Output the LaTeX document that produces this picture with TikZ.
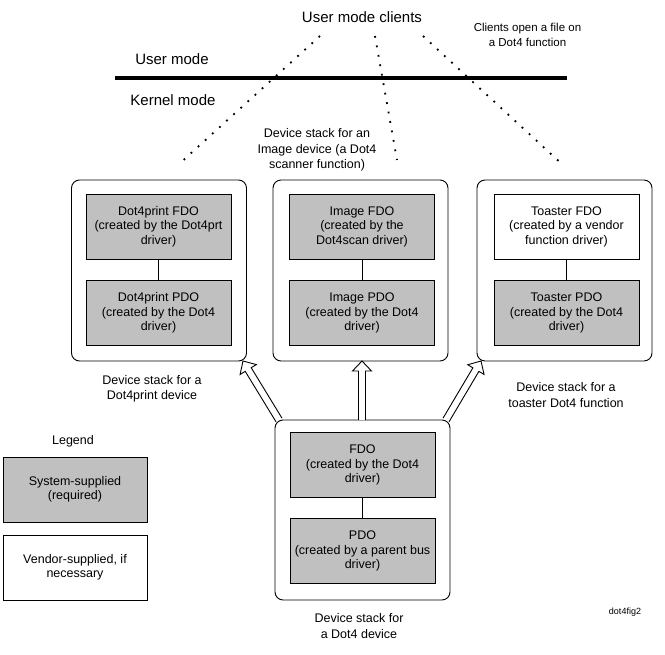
\documentclass[tikz,border=0pt]{standalone}
\usepackage{fontspec}
\setmainfont{Liberation Sans}
\usetikzlibrary{calc}
\definecolor{sysgray}{RGB}{192,192,192}

\tikzset{
  stack/.style={draw, line width=0.9pt, rounded corners=8pt, minimum width=175pt, minimum height=181pt},
  obj/.style={draw, line width=0.9pt, fill=sysgray, minimum width=145pt, minimum height=65pt, align=center, font=\fontsize{12.5}{14.5}\selectfont},
  vendor/.style={obj, fill=white},
  lbl/.style={align=center, font=\fontsize{12.5}{15.5}\selectfont},
  big/.style={font=\fontsize{15}{18}\selectfont},
  dots/.style={line width=1.8pt, dash pattern=on 1.8pt off 7.8pt}
}

% hollow arrow from #1 to #2
\newcommand{\fatarrow}[2]{%
  \coordinate (hb) at ($(#2)!10pt!(#1)$);
  \draw[fill=white, line width=0.9pt] ($(#1)!3.5pt!90:(#2)$) -- ($(hb)!3.5pt!-90:(#1)$)
    -- ($(hb)!9.5pt!-90:(#1)$) -- (#2) -- ($(hb)!9.5pt!90:(#1)$)
    -- ($(hb)!3.5pt!90:(#1)$) -- ($(#1)!3.5pt!-90:(#2)$);
}

\begin{document}
\begin{tikzpicture}[x=1pt,y=-1pt]
\useasboundingbox (0,0) rectangle (665,655);

% top part
\node[big] (clients) at (362,17) {User mode clients};
\node[lbl, font=\fontsize{11.5}{15}\selectfont] (opennote) at (527.5,35) {Clients open a file on\\a Dot4 function};
\node[big] (umode) at (172,59) {User mode};
\node[big] (kmode) at (173,100) {Kernel mode};
\coordinate (lineL) at (115,78);
\coordinate (lineR) at (567,78);
\draw[line width=3.3pt] (lineL) -- (lineR);

\coordinate (cl) at (320,36);
\coordinate (cm) at (375,36);
\coordinate (cr) at (423,36);
\coordinate (el) at (178,165);
\coordinate (em) at (397,160);
\coordinate (er) at (564,166);
\draw[dots] (cl) -- (el);
\draw[dots] (cm) -- (em);
\draw[dots] (cr) -- (er);

\node[lbl] (imglbl) at (317,150) {Device stack for an\\Image device (a Dot4\\scanner function)};

% device stacks
\node[stack] (prtstack) at (159,270.5) {};
\node[obj] (prtfdo) at (158.5,226.5) {Dot4print FDO\\(created by the Dot4prt\\driver)};
\node[obj] (prtpdo) at (158.5,313) {Dot4print PDO\\(created by the Dot4\\driver)};
\draw[line width=0.9pt] (prtfdo) -- (prtpdo);

\node[stack] (imgstack) at (360.5,270.5) {};
\node[obj] (imgfdo) at (362,226.5) {Image FDO\\(created by the\\Dot4scan driver)};
\node[obj] (imgpdo) at (362,313) {Image PDO\\(created by the Dot4\\driver)};
\draw[line width=0.9pt] (imgfdo) -- (imgpdo);

\node[stack] (tststack) at (564.5,270.5) {};
\node[vendor] (tstfdo) at (566.5,226.5) {Toaster FDO\\(created by a vendor\\function driver)};
\node[obj] (tstpdo) at (566.5,313) {Toaster PDO\\(created by the Dot4\\driver)};
\draw[line width=0.9pt] (tstfdo) -- (tstpdo);

\node[stack, minimum height=180pt] (dotstack) at (362.5,510) {};
\node[obj] (dotfdo) at (362.5,465) {FDO\\(created by the Dot4\\driver)};
\node[obj] (dotpdo) at (362.5,551) {PDO\\(created by a parent bus\\driver)};
\draw[line width=0.9pt] (dotfdo) -- (dotpdo);

\node[lbl] at (152,389) {Device stack for a\\Dot4print device};
\node[lbl] at (566,395) {Device stack for a\\toaster Dot4 function};
\node[lbl] at (359,626) {Device stack for\\a Dot4 device};
\node[font=\fontsize{9}{11}\selectfont] at (625,612) {dot4fig2};

% arrows
\coordinate (al) at (279,420);
\coordinate (tl) at (243,361);
\coordinate (am) at (362,420);
\coordinate (tm) at (362,361);
\coordinate (ar) at (446,420);
\coordinate (tr) at (481,361);
\fatarrow{al}{tl}
\fatarrow{am}{tm}
\fatarrow{ar}{tr}

% legend
\node[lbl] (legend) at (73,441) {Legend};
\node[obj, minimum width=144pt] (sysbox) at (75,489.5) {System-supplied\\(required)};
\node[vendor, minimum width=144pt] (vndbox) at (75,567.5) {Vendor-supplied, if\\necessary};
\end{tikzpicture}
\end{document}
